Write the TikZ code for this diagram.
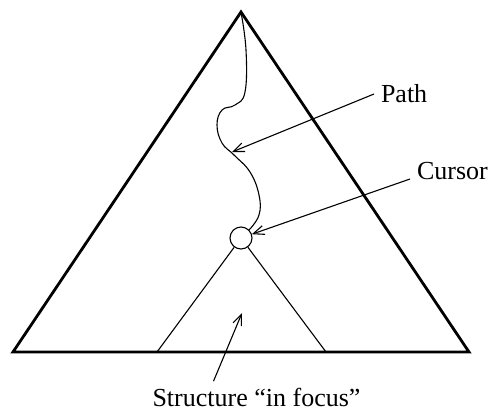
\documentclass[tikz,border=0pt]{standalone}
\usepackage{fontspec}
\setmainfont{Liberation Serif}
\usetikzlibrary{arrows.meta}
\begin{document}
\begin{tikzpicture}[x=1pt, y=-1pt,
  every node/.style={font=\fontsize{26}{30}\selectfont},
  lbl/.style={inner sep=0pt, outer sep=7pt},
  thin line/.style={line width=1.1pt},
  ptr/.style={thin line, -{Straight Barb[length=11pt,width=9pt]}}]
\useasboundingbox (0,0) rectangle (490,413);

\coordinate (apex) at (241,12);
\coordinate (bl) at (13,352);
\coordinate (br) at (469,352);
\coordinate (fl) at (157,352);
\coordinate (fr) at (326,352);
\coordinate (pathpt) at (232,152);
\coordinate (focuspt) at (242,313);

\node[draw, circle, thin line, minimum size=22pt, inner sep=0pt] (cursor) at (241,238) {};

\node[lbl, anchor=west] (pathlbl) at (374,94) {Path};
\node[lbl, anchor=base west] (cursorlbl) at (410,179) {Cursor};
\node[lbl, anchor=base] (focuslbl) at (256.5,406.5) {Structure “in focus”};

\draw[line width=2.8pt] (apex) -- (bl) -- (br) -- cycle;
\draw[thin line] (cursor) -- (fl);
\draw[thin line] (cursor) -- (fr);
\draw[thin line] plot[smooth, tension=0.7] coordinates {(241,12) (246,50) (245,92) (235,105)
  (222,110) (217,125) (222,143) (234,155) (250,172) (259,195) (259,215) (249,230)};

\draw[ptr] (pathlbl.west) -- (pathpt);
\draw[ptr] (cursorlbl.base west) -- (cursor);
\draw[ptr] ([xshift=-43pt]focuslbl.north) -- (focuspt);
\end{tikzpicture}
\end{document}
